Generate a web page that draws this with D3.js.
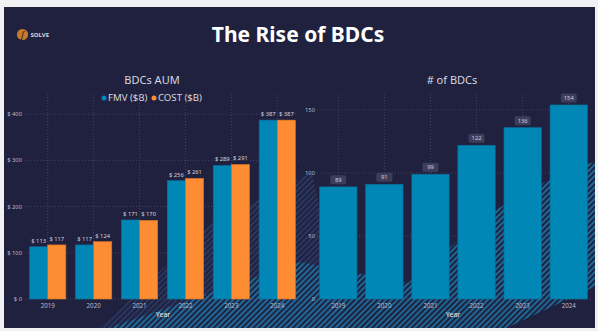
<!DOCTYPE html>
<html>
<head>
<meta charset="utf-8">
<script src="https://cdn.jsdelivr.net/npm/d3@7"></script>
<style>
  html, body { margin: 0; padding: 0; background: #f2f2f3; }
  svg { display: block; font-family: "Noto Sans", "Open Sans", sans-serif; }
</style>
</head>
<body>
<div id="report"></div>
<script>
// --------------- Data ---------------
const years = ["2019", "2020", "2021", "2022", "2023", "2024"];
const fmv = [113, 117, 171, 256, 289, 387];
const cost = [117, 124, 170, 261, 291, 387];
const bdcCount = [89, 91, 99, 122, 136, 154];
const aumTicks = [0, 100, 200, 300, 400];
const countTicks = [0, 50, 100, 150];

// --------------- Constants ---------------
const W = 598, H = 331;
const PANEL = { x: 4, y: 7, w: 591, h: 321 };
const BLUE = "#0087b6", BLUE_EDGE = "#0a6f98";
const ORANGE = "#fe8c33", ORANGE_EDGE = "#d9731f";
const GRID = "#4a4c70";
const TICK_TXT = "#b9bccb";
const BASE_Y = 299, TOP_Y = 94;

const svg = d3
  .select("#report")
  .append("svg")
  .attr("width", W)
  .attr("height", H);

const defs = svg.append("defs");

// hatch patterns for the background swoosh
const hatch = (id, color, width) => {
  const p = defs
    .append("pattern")
    .attr("id", id)
    .attr("patternUnits", "userSpaceOnUse")
    .attr("width", 4)
    .attr("height", 4)
    .attr("patternTransform", "rotate(45)");
  p.append("rect")
    .attr("width", width)
    .attr("height", 4)
    .attr("fill", color);
};
hatch("hatch-faint", "#2a3a66", 1.7);
hatch("hatch-bright", "#1c6a98", 1.9);

// page backdrop and dark panel
svg.append("rect").attr("width", W).attr("height", H).attr("fill", "#f1f1f3");
svg
  .append("rect")
  .attr("x", PANEL.x)
  .attr("y", PANEL.y)
  .attr("width", PANEL.w)
  .attr("height", PANEL.h)
  .attr("fill", "#20213f");

const panelClip = defs.append("clipPath").attr("id", "panel-clip");
panelClip
  .append("rect")
  .attr("x", PANEL.x)
  .attr("y", PANEL.y)
  .attr("width", PANEL.w)
  .attr("height", PANEL.h);

const swoosh = svg.append("g").attr("clip-path", "url(#panel-clip)");
swoosh
  .append("polygon")
  .attr("points", "95,331 210,225 312,172 345,331")
  .attr("fill", "url(#hatch-faint)");
swoosh
  .append("polygon")
  .attr(
    "points",
    "100,331 300,262 408,283 453,245 499,208 545,182 598,160 598,285 500,331"
  )
  .attr("fill", "url(#hatch-bright)");

// --------------- Header ---------------
svg
  .append("text")
  .attr("x", 298)
  .attr("y", 42)
  .attr("text-anchor", "middle")
  .attr("fill", "#ffffff")
  .attr("font-size", 21)
  .attr("font-weight", 700)
  .text("The Rise of BDCs");

const logo = svg.append("g").attr("transform", "translate(22.5,34.5)");
logo.append("circle").attr("r", 5.6).attr("fill", "#c77a2c");
logo
  .append("text")
  .attr("y", 3)
  .attr("text-anchor", "middle")
  .attr("font-size", 9)
  .attr("font-style", "italic")
  .attr("fill", "#2a1a10")
  .text("ʃ");
logo
  .append("text")
  .attr("x", 8)
  .attr("y", 2.2)
  .attr("font-size", 6)
  .attr("font-weight", 700)
  .attr("fill", "#d8d8de")
  .text("SOLVE");

// --------------- Shared helpers ---------------
const chartTitle = (x, label) =>
  svg
    .append("text")
    .attr("x", x)
    .attr("y", 84)
    .attr("text-anchor", "middle")
    .attr("fill", "#d6d7df")
    .attr("font-size", 11)
    .text(label);

const drawGrid = (xScale, yScale, ticks, left, right, fmt, labelX) => {
  const g = svg.append("g");
  g.selectAll(".hgrid")
    .data(ticks)
    .join("line")
    .attr("x1", left)
    .attr("x2", right)
    .attr("y1", (d) => yScale(d))
    .attr("y2", (d) => yScale(d))
    .attr("stroke", GRID)
    .attr("stroke-width", 0.8)
    .attr("stroke-dasharray", "1,2");
  g.selectAll(".vgrid")
    .data(years)
    .join("line")
    .attr("x1", (d) => xScale(d) + xScale.bandwidth() / 2)
    .attr("x2", (d) => xScale(d) + xScale.bandwidth() / 2)
    .attr("y1", TOP_Y)
    .attr("y2", BASE_Y)
    .attr("stroke", GRID)
    .attr("stroke-width", 0.8)
    .attr("stroke-dasharray", "1,2");
  g.selectAll(".ylab")
    .data(ticks)
    .join("text")
    .attr("x", labelX)
    .attr("y", (d) => yScale(d) + 2)
    .attr("text-anchor", "end")
    .attr("fill", TICK_TXT)
    .attr("font-size", 5.8)
    .text(fmt);
};

const drawXAxis = (xScale, titleX) => {
  const axis = svg
    .append("g")
    .attr("transform", `translate(0,${BASE_Y + 1})`)
    .call(d3.axisBottom(xScale).tickSize(0).tickPadding(4));
  axis.select(".domain").remove();
  axis
    .selectAll("text")
    .attr("fill", TICK_TXT)
    .attr("font-size", 6.2)
    .attr("font-family", "Noto Sans, sans-serif");
  svg
    .append("text")
    .attr("x", titleX)
    .attr("y", 317)
    .attr("text-anchor", "middle")
    .attr("fill", "#cfd1dc")
    .attr("font-size", 6.8)
    .attr("font-weight", 600)
    .text("Year");
};

// --------------- BDCs AUM (grouped bars) ---------------
const xAum = d3
  .scaleBand()
  .domain(years)
  .range([25, 300])
  .paddingInner(0.21)
  .paddingOuter(0.1);
const xSeries = d3
  .scaleBand()
  .domain(["fmv", "cost"])
  .range([0, xAum.bandwidth()]);
const yAum = d3.scaleLinear().domain([0, 443.5]).range([BASE_Y, TOP_Y]);

chartTitle(152, "BDCs AUM");

// legend
const legendItems = [
  { label: "FMV ($B)", color: BLUE, x: 104 },
  { label: "COST ($B)", color: ORANGE, x: 154 },
];
const legend = svg.append("g");
legendItems.forEach((item) => {
  legend
    .append("circle")
    .attr("cx", item.x)
    .attr("cy", 98)
    .attr("r", 2.5)
    .attr("fill", item.color);
  legend
    .append("text")
    .attr("x", item.x + 4)
    .attr("y", 101.3)
    .attr("fill", "#d6d7df")
    .attr("font-size", 9.6)
    .text(item.label);
});

drawGrid(xAum, yAum, aumTicks, 25, 300, (d) => `$ ${d}`, 22);

const aumRows = years.map((y, i) => ({ year: y, fmv: fmv[i], cost: cost[i] }));
const series = [
  { key: "fmv", fill: BLUE, edge: BLUE_EDGE },
  { key: "cost", fill: ORANGE, edge: ORANGE_EDGE },
];

series.forEach((s) => {
  const g = svg.append("g");
  g.selectAll("rect")
    .data(aumRows)
    .join("rect")
    .attr("x", (d) => xAum(d.year) + xSeries(s.key))
    .attr("y", (d) => yAum(d[s.key]))
    .attr("width", xSeries.bandwidth())
    .attr("height", (d) => BASE_Y - yAum(d[s.key]))
    .attr("fill", s.fill)
    .attr("stroke", s.edge)
    .attr("stroke-width", 0.6);
  g.selectAll("text")
    .data(aumRows)
    .join("text")
    .attr("x", (d) => xAum(d.year) + xSeries(s.key) + xSeries.bandwidth() / 2)
    .attr("y", (d) => yAum(d[s.key]) - 4)
    .attr("text-anchor", "middle")
    .attr("fill", "#d2d4de")
    .attr("font-size", 5.8)
    .text((d) => `$ ${d[s.key]}`);
});

drawXAxis(xAum, 163);

// --------------- # of BDCs ---------------
const xCount = d3
  .scaleBand()
  .domain(years)
  .range([315, 592])
  .paddingInner(0.19)
  .paddingOuter(0.1);
const yCount = d3.scaleLinear().domain([0, 162.7]).range([BASE_Y, TOP_Y]);

chartTitle(452, "# of BDCs");
drawGrid(xCount, yCount, countTicks, 317, 592, (d) => d, 315);

const countRows = years.map((y, i) => ({ year: y, value: bdcCount[i] }));
const countG = svg.append("g");
countG
  .selectAll("rect")
  .data(countRows)
  .join("rect")
  .attr("x", (d) => xCount(d.year))
  .attr("y", (d) => yCount(d.value))
  .attr("width", xCount.bandwidth())
  .attr("height", (d) => BASE_Y - yCount(d.value))
  .attr("fill", BLUE)
  .attr("stroke", BLUE_EDGE)
  .attr("stroke-width", 0.6);

const tags = countG
  .selectAll(".tag")
  .data(countRows)
  .join("g")
  .attr(
    "transform",
    (d) =>
      `translate(${xCount(d.year) + xCount.bandwidth() / 2},${yCount(d.value) - 7})`
  );
tags
  .append("rect")
  .attr("x", -8)
  .attr("y", -4.5)
  .attr("width", 16)
  .attr("height", 9)
  .attr("rx", 1.5)
  .attr("fill", "#3b3d5a");
tags
  .append("text")
  .attr("y", 2)
  .attr("text-anchor", "middle")
  .attr("fill", "#cfd1dc")
  .attr("font-size", 5.8)
  .text((d) => d.value);

drawXAxis(xCount, 453);
</script>
</body>
</html>
